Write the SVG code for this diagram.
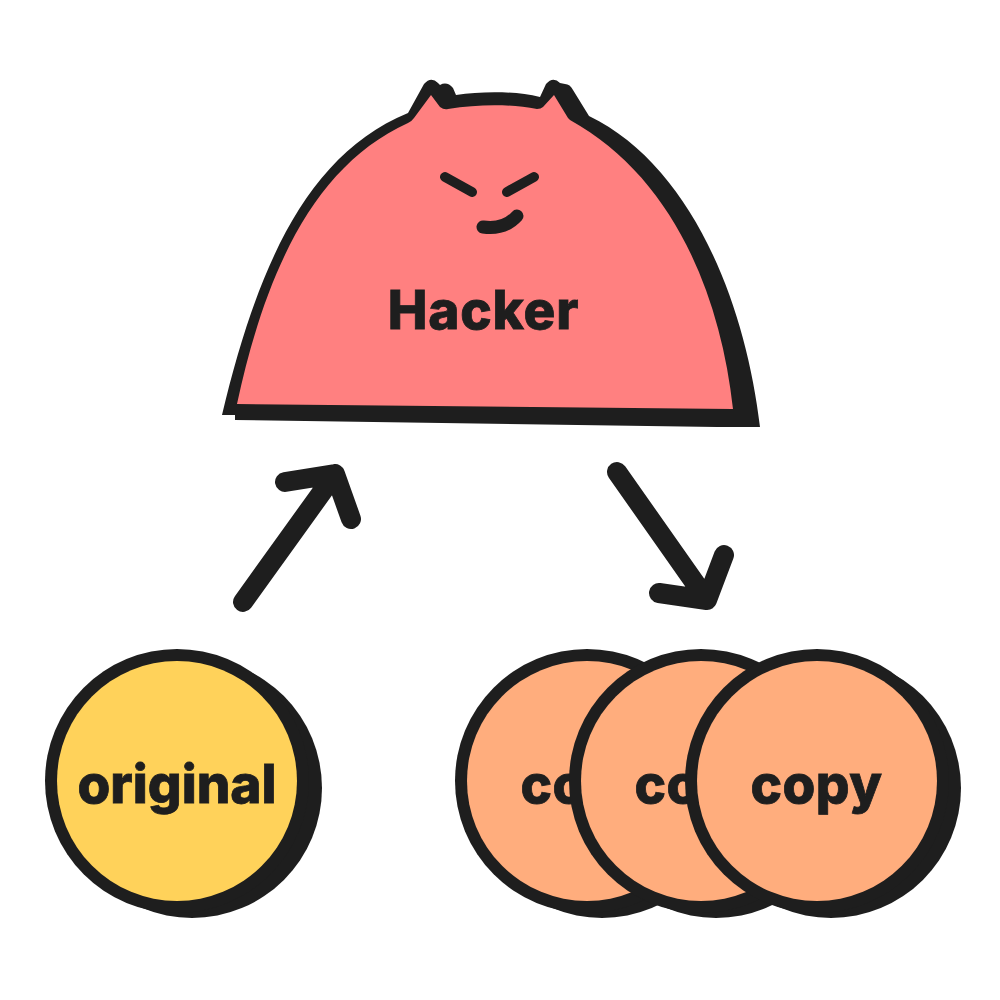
<svg xmlns="http://www.w3.org/2000/svg" width="1000" height="1000" viewBox="0 0 1000 1000">
<style>
.s{fill:#1e1e1e}
.l{fill:none;stroke:#1e1e1e;stroke-linecap:round;stroke-linejoin:round}
text{font-family:"Inter","Liberation Sans",sans-serif;font-weight:800;fill:#1e1e1e;stroke:#1e1e1e;stroke-width:.8px;text-anchor:middle;font-size:53px}
</style>
<rect width="1000" height="1000" fill="#fff"/>
<g id="hacker">
<path class="s" d="M222 415C256 272 305 155 408 113L424 84Q431 76 438 83L440 85Q447 81 453 88L456 95C483 91 515 91 540 97L546 84Q553 76 560 83L565 84Q570 84 573 90L589 116C690 165 745 300 760 427L717 427L235 420L235 415Z"/>
<path fill="#ff8080" d="M237 404C265 274 313 166 408 123Q412 121 414 118L431 95L440 107Q444 110 448 109C480 104 510 104 537 109Q541 109 543 107L554 95L568 118Q569 119 570 120C670 175 720 290 733 409Z"/>
<path class="l" stroke-width="10" d="M445 177L472 192M534 177L507 192"/>
<path class="l" stroke-width="13" d="M483 227C497 229 508 226 517 216"/>
<text x="483.500" y="329" letter-spacing=".8">Hacker</text>
</g>
<g id="connectors">
<path class="l" stroke-width="20" d="M243 602L335 474M285 482L335 474L351 519"/>
<path class="l" stroke-width="20" d="M617 472L707 600M659 593L707 600L724 555"/>
</g>
<g id="original">
<circle class="s" cx="192" cy="788" r="130"/>
<circle class="s" cx="177" cy="781" r="132"/>
<circle fill="#ffd25a" cx="177" cy="781" r="120"/>
<text x="177" y="803">original</text>
</g>
<g id="copy1">
<circle class="s" cx="602" cy="788" r="130"/>
<circle class="s" cx="587" cy="781" r="132"/>
<circle fill="#ffad7d" cx="587" cy="781" r="120"/>
<text x="586.500" y="803" letter-spacing=".5">copy</text>
</g>
<g id="copy2">
<circle class="s" cx="716" cy="788" r="130"/>
<circle class="s" cx="701" cy="781" r="132"/>
<circle fill="#ffad7d" cx="701" cy="781" r="120"/>
<text x="700.500" y="803" letter-spacing=".5">copy</text>
</g>
<g id="copy3">
<circle class="s" cx="831" cy="788" r="130"/>
<circle class="s" cx="817" cy="781" r="132"/>
<circle fill="#ffad7d" cx="817" cy="781" r="120"/>
<text x="816.500" y="803" letter-spacing=".5">copy</text>
</g>
</svg>
